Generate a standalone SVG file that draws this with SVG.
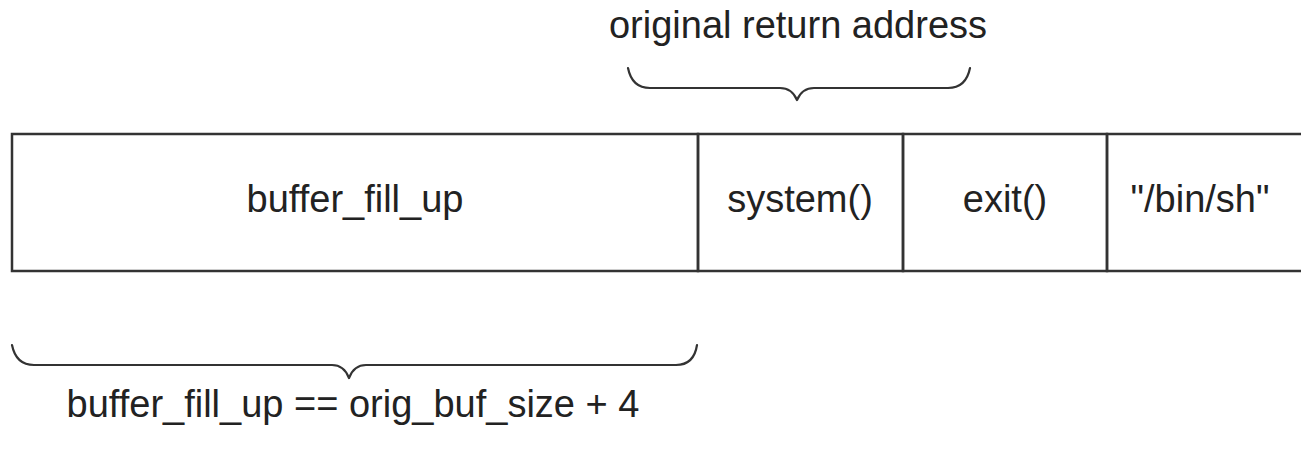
<svg xmlns="http://www.w3.org/2000/svg" width="1301" height="451" viewBox="0 0 1301 451">
<style>
.t{font-family:"Liberation Sans",Arial,sans-serif;font-size:38px;fill:#222;text-anchor:middle}
.b{fill:none;stroke:#333;stroke-width:2.5}
.br{fill:none;stroke:#333;stroke-width:2.2;stroke-linejoin:round;stroke-linecap:round}
</style>
<rect width="1301" height="451" fill="#fff"/>
<g id="stack">
<g id="buffer"><rect class="b" x="12" y="134" width="686" height="137"/><text class="t" x="355" y="212">buffer_fill_up</text></g>
<g id="system"><rect class="b" x="698" y="134" width="205" height="137"/><text class="t" x="800" y="212">system()</text></g>
<g id="exit"><rect class="b" x="903" y="134" width="204" height="137"/><text class="t" x="1005" y="212">exit()</text></g>
<g id="binsh"><rect class="b" x="1107" y="134" width="200" height="137"/><text class="t" x="1200" y="212">"/bin/sh"</text></g>
</g>
<g id="connectors">
<path class="br" d="M628,68 Q632,88 650,88 L780,88 Q792,88 797,100 Q802,88 814,88 L948,88 Q966,88 970,68"/>
<path class="br" d="M12,345 Q16,365 34,365 L332,365 Q344,365 349,378 Q354,365 366,365 L676,365 Q694,365 697,345"/>
</g>
<g id="labels">
<text class="t" x="798" y="38">original return address</text>
<text class="t" x="353" y="417">buffer_fill_up == orig_buf_size + 4</text>
</g>
</svg>
